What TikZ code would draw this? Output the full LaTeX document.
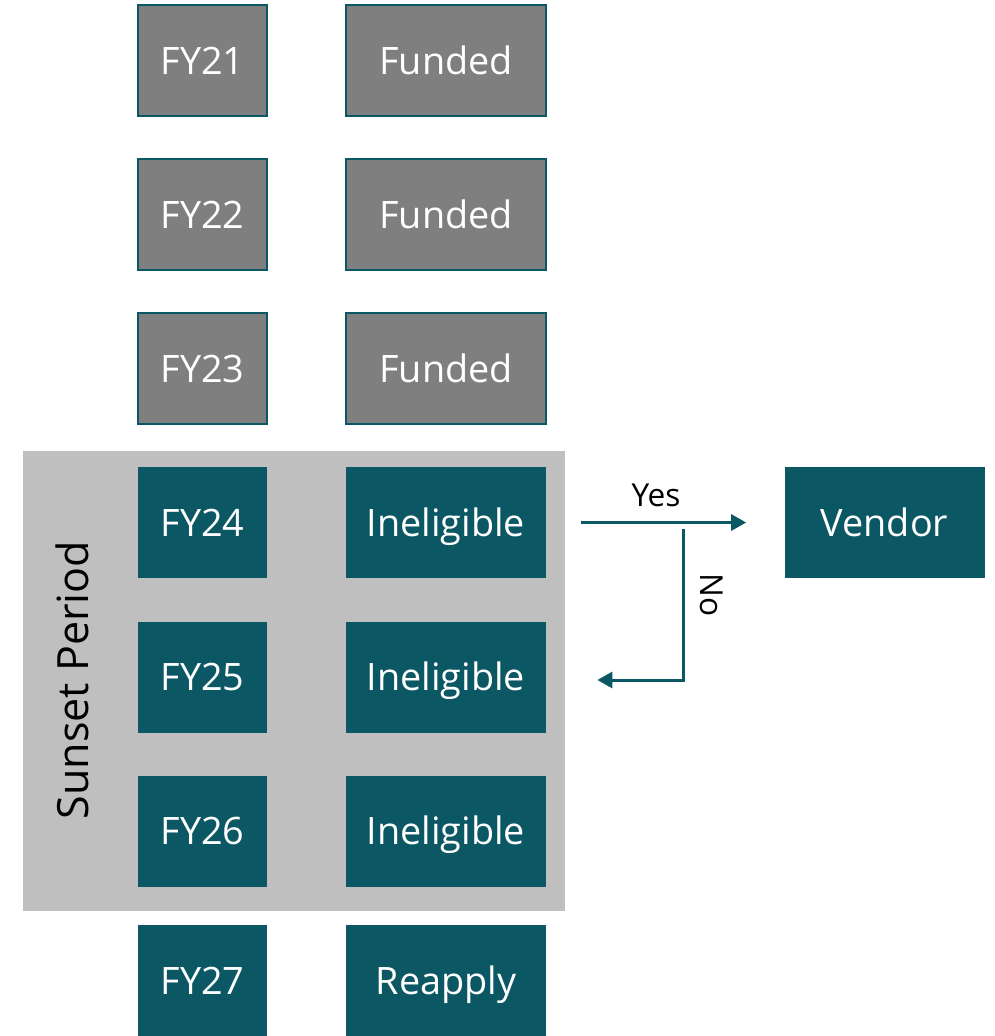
\documentclass[tikz,border=0pt]{standalone}
\usepackage{fontspec}
\setmainfont{Open Sans}
\usepackage{tikz}
\usetikzlibrary{positioning}
\usetikzlibrary{arrows.meta}
\usetikzlibrary{calc}

\definecolor{teal}{RGB}{11,87,99}
\definecolor{darkgray}{RGB}{127,127,127}
\definecolor{sunsetgray}{RGB}{191,191,191}

\tikzset{
	yearbox/.style = {minimum width=2.58cm, minimum height=2.22cm, inner sep=0pt,
		text height=0.72cm, text depth=0.18cm,
		text=white, font=\fontsize{21.5}{24}\selectfont},
	statusbox/.style = {yearbox, minimum width=4cm},
	funded/.style = {fill=darkgray, draw=teal, line width=1.2pt},
	open/.style = {fill=teal},
	flow/.style = {draw=teal, line width=1.7pt, -{Triangle[length=0.3cm,width=0.32cm]}},
	flowlabel/.style = {font=\fontsize{18}{20}\selectfont, text=black}
}

\begin{document}
\begin{tikzpicture}
\useasboundingbox (0,0) rectangle (19.9,-20.72);

% the sunset period behind the boxes
\node (sunset) [fill=sunsetgray, minimum width=10.84cm, minimum height=9.2cm, inner sep=0pt] at (5.88,-13.62) {};
\node (sunsetlabel) [rotate=90, font=\fontsize{24.5}{28}\selectfont] at (1.44,-13.6) {Sunset Period};

\node (fy21) [yearbox, funded] at (4.05,-1.21) {FY21};
\node (fy22) [yearbox, funded] at (4.05,-4.29) {FY22};
\node (fy23) [yearbox, funded] at (4.05,-7.37) {FY23};
\node (fy24) [yearbox, open] at (4.05,-10.45) {FY24};
\node (fy25) [yearbox, open] at (4.05,-13.54) {FY25};
\node (fy26) [yearbox, open] at (4.05,-16.62) {FY26};
\node (fy27) [yearbox, open] at (4.05,-19.61) {FY27};

\node (st21) [statusbox, funded] at (8.92,-1.21) {Funded};
\node (st22) [statusbox, funded] at (8.92,-4.29) {Funded};
\node (st23) [statusbox, funded] at (8.92,-7.37) {Funded};
\node (st24) [statusbox, open] at (8.92,-10.45) {Ineligible};
\node (st25) [statusbox, open] at (8.92,-13.54) {Ineligible};
\node (st26) [statusbox, open] at (8.92,-16.62) {Ineligible};
\node (st27) [statusbox, open] at (8.92,-19.61) {Reapply};

\node (vendor) [statusbox, open] at (17.69,-10.45) {Vendor};

% yes / no branch
\draw[flow, shorten <=0.7cm, shorten >=0.76cm] (st24) -- (vendor);
\node (yes) [flowlabel] at (13.12,-9.9) {Yes};

\coordinate (nostart) at ($(st24.east)+(2.74,-0.12)$);
\coordinate (noend) at ($(st25.east)+(1.02,-0.06)$);
\draw[flow] (nostart) |- (noend);
\node (no) [flowlabel, rotate=-90] at (14.24,-11.9) {No};
\end{tikzpicture}
\end{document}
